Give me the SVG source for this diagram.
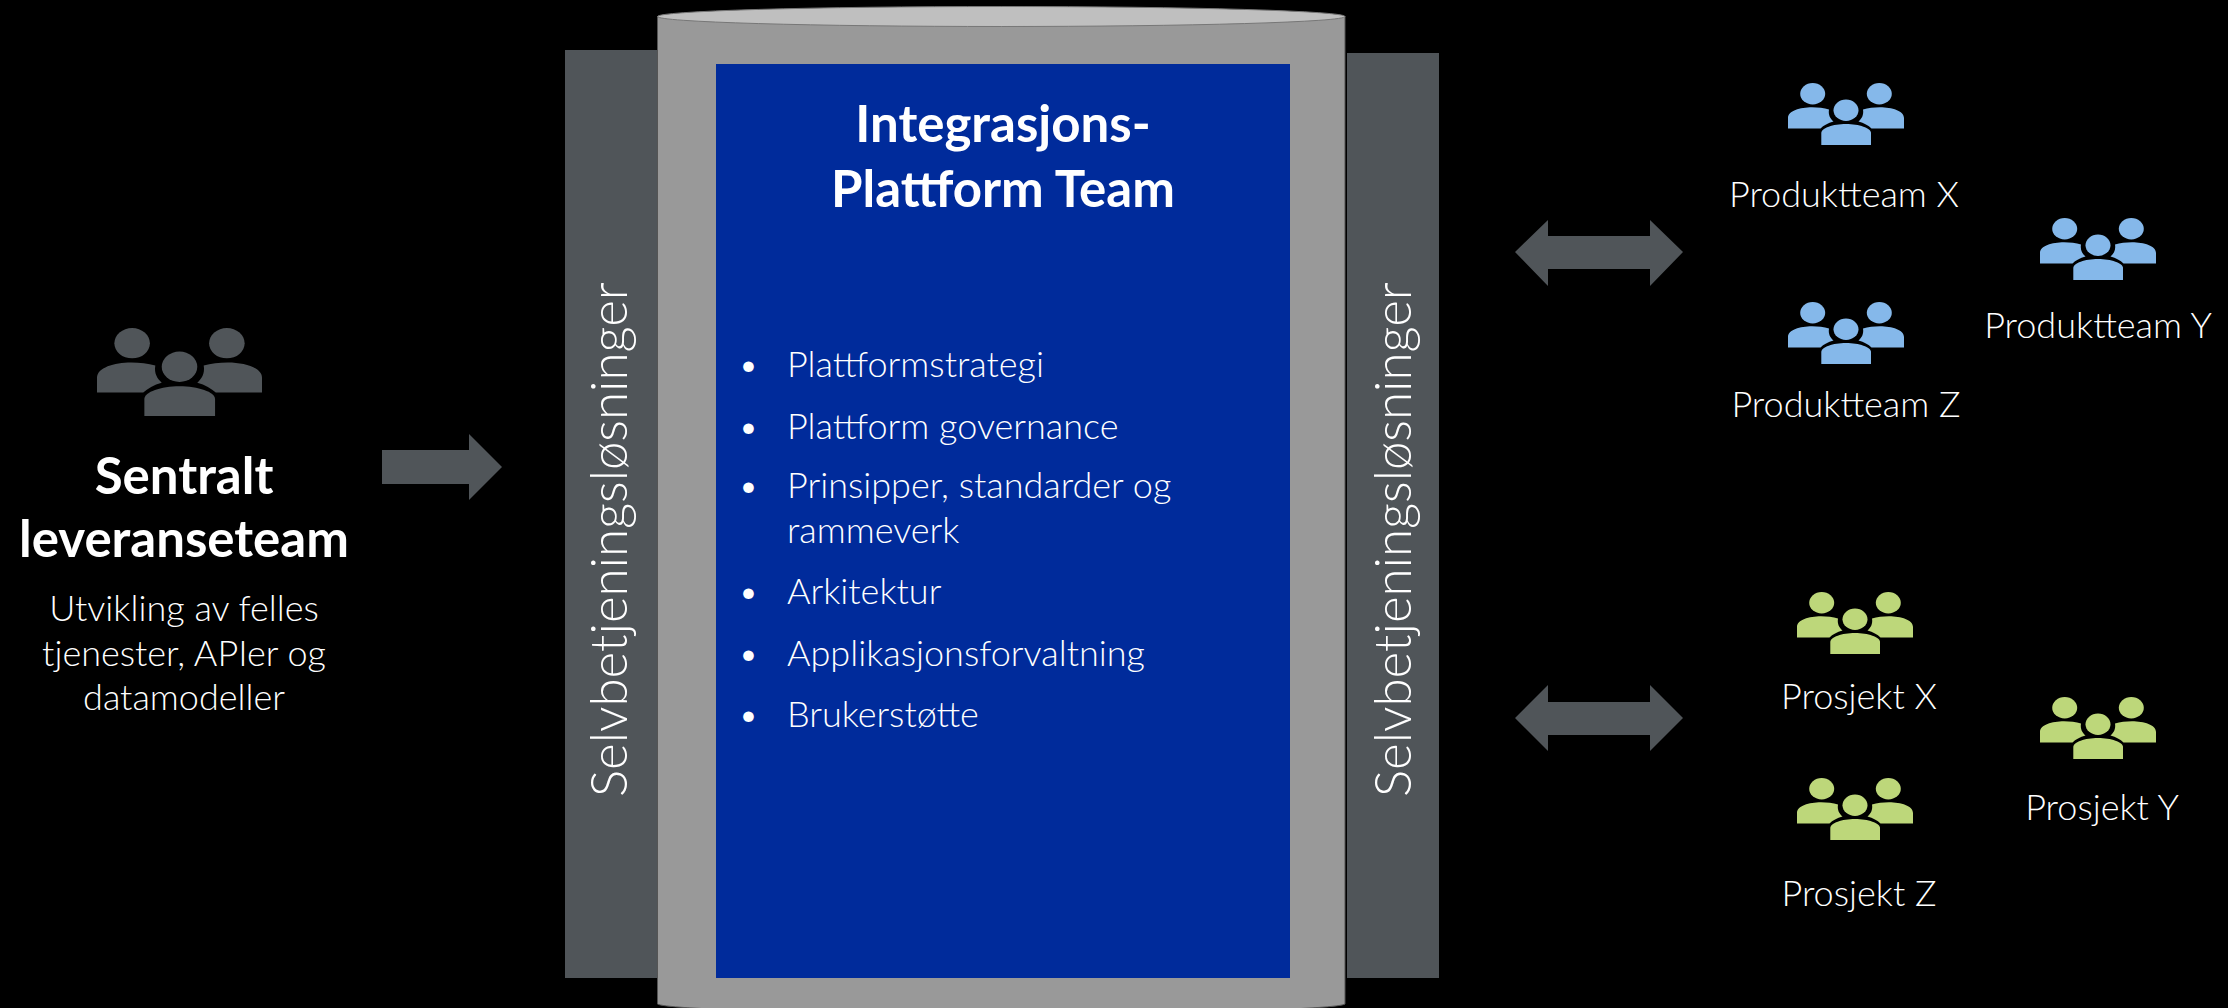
<svg xmlns="http://www.w3.org/2000/svg" width="2228" height="1008" viewBox="0 0 2228 1008">
<style>
text{font-family:"Lato","Liberation Sans",sans-serif;fill:#fff}
.l{font-weight:300;font-size:36px}
.c{text-anchor:middle}
.h{font-weight:700;font-size:51px}
.bar{fill:#505559}
.ar{fill:#505559}
.b{fill:#85B8EA}
.g{fill:#BDD77A}
.d{fill:#505559}
</style>
<defs>
<symbol id="team" viewBox="0 0 116 62" preserveAspectRatio="none">
<ellipse cx="24.7" cy="10.7" rx="12.5" ry="10.7"/>
<ellipse cx="91.3" cy="10.7" rx="12.5" ry="10.7"/>
<ellipse cx="58" cy="27.3" rx="12.5" ry="10.7"/>
<path d="M0 45.5V35C0 28 12 24.3 24 24.3C30 24.3 36 25 41 26.5C40 32 42.5 36 45.5 38.5C40 40 35.5 42.5 32.5 45.5Z"/>
<path d="M116 45.5V35C116 28 104 24.3 92 24.3C86 24.3 80 25 75 26.5C76 32 73.5 36 70.5 38.5C76 40 80.500 42.5 83.5 45.5Z"/>
<path d="M33.300 62V50C33.300 45 45 41 58 41C71 41 83 45 83 50V62Z"/>
</symbol>
</defs>
<rect width="2228" height="1008" fill="#000"/>
<g id="connectors">
<path class="ar" d="M382 450H469V434L502 467L469 500V484H382Z"/>
<path class="ar" d="M1515 252L1548 220V236H1650V220L1683 252L1650 286V269H1548V286Z"/>
<path class="ar" d="M1515 718L1548 685V702H1650V685L1683 718L1650 751V735H1548V751Z"/>
</g>
<g id="sentralt">
<use href="#team" x="97" y="328" width="165" height="88" class="d"/>
<text class="h c" x="184" y="494">Sentralt</text>
<text class="h c" x="184" y="557">leveranseteam</text>
<text class="l c" x="184" y="621">Utvikling av felles</text>
<text class="l c" x="184" y="666">tjenester, APIer og</text>
<text class="l c" x="184" y="710">datamodeller</text>
</g>
<g id="selvbetjening-venstre">
<rect class="bar" x="565" y="50" width="93" height="928"/>
<text class="l" transform="translate(627 797) rotate(-90)" style="font-size:51px">Selvbetjeningsløsninger</text>
</g>
<g id="selvbetjening-hoyre">
<rect class="bar" x="1347" y="53" width="92" height="925"/>
<text class="l" transform="translate(1411 797) rotate(-90)" style="font-size:51px">Selvbetjeningsløsninger</text>
</g>
<g id="plattform">
<path d="M657.500 16.500V1004A344 10 0 0 0 1345 1004V16.500Z" fill="#999" stroke="#555" stroke-width="1"/>
<ellipse cx="1001.300" cy="16.500" rx="343.700" ry="10" fill="#BFBFBF" stroke="#777" stroke-width="1"/>
<rect x="716" y="64" width="574" height="914" fill="#002B9B"/>
<text class="c" x="1003" y="142" style="font-weight:700;font-size:51px">Integrasjons-</text>
<text class="c" x="1003" y="207" style="font-weight:700;font-size:51px">Plattform Team</text>
<g class="l">
<text x="738" y="377">•</text><text x="787" y="377">Plattformstrategi</text>
<text x="738" y="439">•</text><text x="787" y="439">Plattform governance</text>
<text x="738" y="498">•</text><text x="787" y="498">Prinsipper, standarder og</text>
<text x="787" y="543">rammeverk</text>
<text x="738" y="604">•</text><text x="787" y="604">Arkitektur</text>
<text x="738" y="666">•</text><text x="787" y="666">Applikasjonsforvaltning</text>
<text x="738" y="727">•</text><text x="787" y="727">Brukerstøtte</text>
</g>
</g>
<g id="produktteam-x"><use href="#team" x="1788" y="83" width="116" height="62" class="b"/><text class="l c" x="1844" y="207">Produktteam X</text></g>
<g id="produktteam-y"><use href="#team" x="2040" y="218" width="116" height="62" class="b"/><text class="l c" x="2098" y="338">Produktteam Y</text></g>
<g id="produktteam-z"><use href="#team" x="1788" y="302" width="116" height="62" class="b"/><text class="l c" x="1846" y="417">Produktteam Z</text></g>
<g id="prosjekt-x"><use href="#team" x="1797" y="592" width="116" height="62" class="g"/><text class="l c" x="1859" y="709">Prosjekt X</text></g>
<g id="prosjekt-y"><use href="#team" x="2040" y="697" width="116" height="62" class="g"/><text class="l c" x="2102" y="820">Prosjekt Y</text></g>
<g id="prosjekt-z"><use href="#team" x="1797" y="778" width="116" height="62" class="g"/><text class="l c" x="1859" y="906">Prosjekt Z</text></g>
</svg>
